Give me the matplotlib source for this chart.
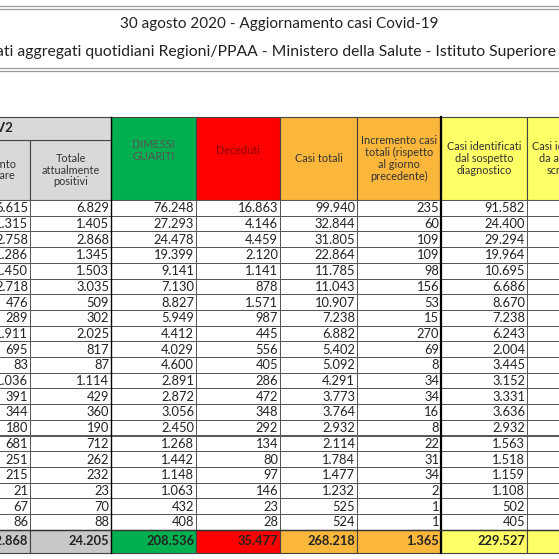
import matplotlib.pyplot as plt
from matplotlib.patches import Rectangle

title = '30 agosto 2020 - Aggiornamento casi Covid-19'
subtitle = 'Dati aggregati quotidiani Regioni/PPAA - Ministero della Salute - Istituto Superiore di Sanità'

isolamento = ['6.615', '1.315', '2.758', '1.286', '1.450', '2.718', '476', '289', '1.911', '695', '83',
              '1.036', '391', '344', '180', '681', '251', '215', '21', '67', '86']
positivi = ['6.829', '1.405', '2.868', '1.345', '1.503', '3.035', '509', '302', '2.025', '817', '87',
            '1.114', '429', '360', '190', '712', '262', '232', '23', '70', '88']
guariti = ['76.248', '27.293', '24.478', '19.399', '9.141', '7.130', '8.827', '5.949', '4.412', '4.029', '4.600',
           '2.891', '2.872', '3.056', '2.450', '1.268', '1.442', '1.148', '1.063', '432', '408']
deceduti = ['16.863', '4.146', '4.459', '2.120', '1.141', '878', '1.571', '987', '445', '556', '405',
            '286', '472', '348', '292', '134', '80', '97', '146', '23', '28']
casi_totali = ['99.940', '32.844', '31.805', '22.864', '11.785', '11.043', '10.907', '7.238', '6.882', '5.402', '5.092',
               '4.291', '3.773', '3.764', '2.932', '2.114', '1.784', '1.477', '1.232', '525', '524']
incremento = ['235', '60', '109', '109', '98', '156', '53', '15', '270', '69', '8',
              '34', '34', '16', '8', '22', '31', '34', '2', '1', '1']
sospetto = ['91.582', '24.400', '29.294', '19.964', '10.695', '6.686', '8.670', '7.238', '6.243', '2.004', '3.445',
            '3.152', '3.331', '3.636', '2.932', '1.563', '1.518', '1.159', '1.108', '502', '405']
totali = ['22.868', '24.205', '208.536', '35.477', '268.218', '1.365', '229.527', '']

headers = ['Isolamento\ndomiciliare', 'Totale\nattualmente\npositivi', 'DIMESSI\nGUARITI', 'Deceduti',
           'Casi totali', 'Incremento casi\ntotali (rispetto\nal giorno\nprecedente)',
           'Casi identificati\ndal sospetto\ndiagnostico', 'Casi identificati\nda attività di\nscreening']
columns = [isolamento, positivi, guariti, deceduti, casi_totali, incremento, sospetto, [''] * 21]

plt.rcParams['font.family'] = ['Lato', 'DejaVu Sans']
fig = plt.figure(figsize=(5.59, 5.59), dpi=100)
ax = fig.add_axes([0, 0, 1, 1])
ax.set_xlim(0, 559)
ax.set_ylim(559, 0)
ax.axis('off')

# title box
for y in (6, 9, 68, 71):
    ax.plot([0, 559], [y, y], color='#999999', lw=0.9)
ax.text(279, 24, title, ha='center', va='center', fontsize=11, color='#222222')
ax.text(302, 52, subtitle, ha='center', va='center', fontsize=11.3, color='#222222')

xs = [-52, 30, 111, 196, 280, 357, 441, 527, 612]
hdr_col = ['#d9d9d9', '#d9d9d9', '#00b050', '#ff0000', '#fbb73c', '#fbb73c', '#ffff66', '#ffff66']
hdr_txt = ['#333333', '#333333', '#555555', '#8b0000', '#333333', '#333333', '#333333', '#333333']
tot_col = ['#c8c8c8', '#c8c8c8', '#00b050', '#ff0000', '#fbb73c', '#fbb73c', '#ffff66', '#ffff66']
top, sub, row0, rh = 117, 140, 200, 15.7
n = len(isolamento)
tot_y = row0 + n * rh
tot_h = 23

for i in range(8):
    x0, x1 = xs[i], xs[i + 1]
    w = x1 - x0
    if i < 2:
        ax.add_patch(Rectangle((x0, sub), w, row0 - sub, fc=hdr_col[i], ec='#444444', lw=0.8))
        ax.text((x0 + x1) / 2, (sub + row0) / 2, headers[i], ha='center', va='center',
                fontsize=7.8, color=hdr_txt[i], linespacing=1.1)
    else:
        ax.add_patch(Rectangle((x0, top), w, row0 - top, fc=hdr_col[i], ec='#444444', lw=0.8))
        ax.text((x0 + x1) / 2, (top + row0) / 2 - (8 if i in (2, 3) else 0), headers[i],
                ha='center', va='center', fontsize=7.8, color=hdr_txt[i], linespacing=1.1)
    for r, val in enumerate(columns[i]):
        y = row0 + r * rh
        ax.add_patch(Rectangle((x0, y), w, rh, fc='white', ec='#555555', lw=0.7))
        ax.text(x1 - 2, y + rh / 2 + 0.5, val, ha='right', va='center', fontsize=9.3, color='#222222')
    ax.add_patch(Rectangle((x0, tot_y), w, tot_h, fc=tot_col[i], ec='#444444', lw=0.8))
    ax.text(x1 - 2, tot_y + tot_h / 2, totali[i], ha='right', va='center', fontsize=9.3,
            fontweight='bold', color='#222222')

# top gray band over the first two columns
ax.add_patch(Rectangle((-52, top), 163, sub - top, fc='#d9d9d9', ec='#444444', lw=0.8))
ax.text(13, (top + sub) / 2, 'SARS-CoV2', ha='right', va='center', fontsize=9.5,
        fontweight='bold', color='#222222')

# heavy separators
for x in (111, 441):
    ax.plot([x, x], [top, tot_y + tot_h], color='black', lw=1.6 if x == 441 else 1.0)
ax.plot([0, 559], [tot_y, tot_y], color='#333333', lw=1.0)

fig.savefig('out.png', dpi=100)
